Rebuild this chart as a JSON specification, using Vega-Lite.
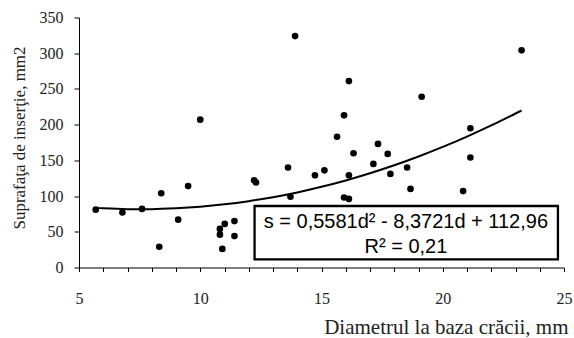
{
  "$schema": "https://vega.github.io/schema/vega-lite/v6.json",
  "width": 485,
  "height": 250,
  "autosize": "none",
  "padding": {"left": 79, "top": 17.5, "right": 10, "bottom": 70.5},
  "background": "white",
  "config": {
    "view": {"stroke": null},
    "axis": {
      "grid": false,
      "domainColor": "#000000",
      "domainWidth": 1,
      "tickColor": "#000000",
      "tickWidth": 1,
      "labelFont": "Liberation Serif",
      "labelFontSize": 16,
      "labelColor": "#222222",
      "labelOverlap": false,
      "labelBound": false,
      "labelFlush": false,
      "titleFont": "Liberation Serif",
      "titleFontWeight": "normal",
      "titleColor": "#222222"
    },
    "axisX": {
      "tickCount": 20,
      "labelExpr": "datum.value % 5 == 0 ? datum.label : ''",
      "tickSize": 4,
      "labelPadding": 32,
      "labelBaseline": "alphabetic",
      "titleFontSize": 21,
      "titleAnchor": "end",
      "titleAlign": "right",
      "titleBaseline": "alphabetic",
      "titleX": 489,
      "titleY": 66
    },
    "axisY": {
      "tickCount": 7,
      "tickSize": 5,
      "labelPadding": 11,
      "titleFontSize": 17,
      "titleAngle": 270,
      "titleAlign": "center",
      "titleBaseline": "middle",
      "titleX": -60,
      "titleY": 120
    }
  },
  "datasets": {
    "points": [
      {"d": 5.69, "s": 81},
      {"d": 6.79, "s": 77},
      {"d": 7.60, "s": 82},
      {"d": 8.39, "s": 104},
      {"d": 8.31, "s": 29},
      {"d": 9.50, "s": 114},
      {"d": 9.09, "s": 67},
      {"d": 10.81, "s": 54},
      {"d": 10.81, "s": 46},
      {"d": 11.01, "s": 61},
      {"d": 11.41, "s": 65},
      {"d": 11.41, "s": 44},
      {"d": 10.91, "s": 26},
      {"d": 10.0, "s": 207},
      {"d": 13.91, "s": 324},
      {"d": 12.22, "s": 122},
      {"d": 12.30, "s": 119},
      {"d": 13.62, "s": 140},
      {"d": 13.72, "s": 99},
      {"d": 14.73, "s": 129},
      {"d": 15.12, "s": 136},
      {"d": 15.93, "s": 213},
      {"d": 15.64, "s": 183},
      {"d": 16.32, "s": 160},
      {"d": 16.13, "s": 129},
      {"d": 15.93, "s": 98},
      {"d": 16.13, "s": 96},
      {"d": 17.14, "s": 145},
      {"d": 17.33, "s": 173},
      {"d": 17.73, "s": 159},
      {"d": 17.84, "s": 131},
      {"d": 18.53, "s": 140},
      {"d": 18.67, "s": 110},
      {"d": 21.14, "s": 195},
      {"d": 21.14, "s": 154},
      {"d": 20.84, "s": 107},
      {"d": 16.13, "s": 261},
      {"d": 19.13, "s": 239},
      {"d": 23.25, "s": 304}
    ],
    "trend": [
      {"d": 5.69, "s": 83.4},
      {"d": 6, "s": 82.8},
      {"d": 7, "s": 81.7},
      {"d": 8, "s": 81.7},
      {"d": 9, "s": 82.8},
      {"d": 10, "s": 85.0},
      {"d": 11, "s": 88.4},
      {"d": 12, "s": 92.9},
      {"d": 13, "s": 98.4},
      {"d": 14, "s": 105.1},
      {"d": 15, "s": 113.0},
      {"d": 16, "s": 121.9},
      {"d": 17, "s": 131.9},
      {"d": 18, "s": 143.1},
      {"d": 19, "s": 155.4},
      {"d": 20, "s": 168.8},
      {"d": 21, "s": 183.3},
      {"d": 22, "s": 198.9},
      {"d": 23, "s": 215.6},
      {"d": 23.25, "s": 219.8}
    ]
  },
  "layer": [
    {
      "data": {"name": "points"},
      "mark": {"type": "point", "filled": true, "fill": "#000000", "stroke": null, "opacity": 1, "size": 44},
      "encoding": {
        "x": {"field": "d", "type": "quantitative", "scale": {"domain": [5, 25], "nice": false, "zero": false}, "title": "Diametrul la baza crăcii, mm"},
        "y": {"field": "s", "type": "quantitative", "scale": {"domain": [0, 350], "nice": false}, "title": "Suprafaţa de inserţie, mm2"}
      }
    },
    {
      "data": {"name": "trend"},
      "mark": {"type": "line", "stroke": "#000000", "strokeWidth": 2, "interpolate": "monotone"},
      "encoding": {
        "x": {"field": "d", "type": "quantitative", "title": "Diametrul la baza crăcii, mm"},
        "y": {"field": "s", "type": "quantitative", "title": "Suprafaţa de inserţie, mm2"}
      }
    },
    {
      "data": {"values": [{}]},
      "mark": {"type": "rect", "fill": "white", "stroke": "#000000", "strokeWidth": 2.3},
      "encoding": {
        "x": {"datum": 12.24, "type": "quantitative", "title": "Diametrul la baza crăcii, mm"},
        "x2": {"datum": 24.75},
        "y": {"datum": 86.1, "type": "quantitative", "title": "Suprafaţa de inserţie, mm2"},
        "y2": {"datum": 11.3}
      }
    },
    {
      "data": {"values": [{}]},
      "mark": {"type": "text", "font": "Liberation Sans", "fontSize": 20, "fill": "#000000", "stroke": null, "align": "center", "baseline": "alphabetic"},
      "encoding": {
        "x": {"datum": 18.48, "type": "quantitative", "title": "Diametrul la baza crăcii, mm"},
        "y": {"datum": 55.3, "type": "quantitative", "title": "Suprafaţa de inserţie, mm2"},
        "text": {"value": "s = 0,5581d² - 8,3721d + 112,96"}
      }
    },
    {
      "data": {"values": [{}]},
      "mark": {"type": "text", "font": "Liberation Sans", "fontSize": 20, "fill": "#000000", "stroke": null, "align": "center", "baseline": "alphabetic"},
      "encoding": {
        "x": {"datum": 18.48, "type": "quantitative", "title": "Diametrul la baza crăcii, mm"},
        "y": {"datum": 20.3, "type": "quantitative", "title": "Suprafaţa de inserţie, mm2"},
        "text": {"value": "R² = 0,21"}
      }
    }
  ]
}
